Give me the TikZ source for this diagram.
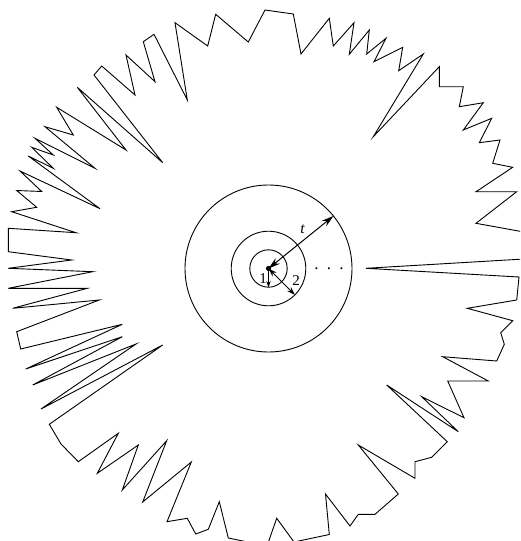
\documentclass[tikz,border=0pt]{standalone}
\usepackage{fontspec}
\setmainfont{Liberation Serif}
\usetikzlibrary{arrows.meta}
\begin{document}
\begin{tikzpicture}[x=1pt,y=-1pt,
  outline/.style={line width=0.9pt,line join=miter},
  ring/.style={line width=0.9pt},
  dimarrow/.style={line width=1pt,{Stealth[length=12pt,width=7pt]}-{Stealth[length=12pt,width=7pt]}},
  smallarrow/.style={line width=1pt,{Stealth[length=8.5pt,width=5.5pt]}-{Stealth[length=8.5pt,width=5.5pt]}},
  lbl/.style={font=\fontsize{15}{15}\selectfont,inner sep=0pt}]
\useasboundingbox (0,0) rectangle (520,541);
\clip (0,0) rectangle (520,541);
\draw[outline] (265,10) -- (293.3,14) -- (301,54) -- (329.3,18.3) -- (333.3,46) -- (354,22.7) -- (349.3,54.3) -- (369.3,30) -- (366.7,54) -- (386,38.3) -- (374,61.7) -- (402.7,47.3) -- (398.7,70.7) -- (423.3,54) -- (373.3,136.7) -- (439.3,66.7) -- (439.3,86.7) -- (463.3,86.7) -- (459.3,106.7) -- (483.3,102.7) -- (463.3,130) -- (491.7,118.3) -- (479.3,142.7) -- (500,140) -- (492.7,163.3) -- (512.7,167.3) -- (476,191.7) -- (516.7,191.7) -- (476,223.3) -- (524,232) -- (524,259) -- (366,268.3) -- (519,277) -- (516.7,300) -- (467.3,308.3) -- (512.7,320.7) -- (500.7,332.7) -- (504.3,344.3) -- (496.7,361) -- (442.7,356.7) -- (488.3,381) -- (447.7,381) -- (464,417.7) -- (421.7,396.7) -- (458.3,431.7) -- (386.7,385) -- (447.3,441.7) -- (431.7,457.3) -- (415,461.7) -- (415,478.3) -- (358.3,445) -- (398.3,494) -- (375,514.3) -- (358.3,514.3) -- (350,526) -- (325.5,494) -- (329.3,534.5) -- (294,542) -- (276.7,518.3) -- (267,546) -- (228.3,538) -- (219.3,501.7) -- (208.3,529.3) -- (195.7,534) -- (187.3,518.3) -- (167,521.7) -- (191.3,462) -- (142.7,502) -- (166.7,440.7) -- (122.3,490) -- (138.3,445) -- (97.3,473.3) -- (118.3,433.3) -- (78.3,461.7) -- (61,444) -- (49.3,424.3) -- (162.7,345) -- (41,409) -- (136,344) -- (32.7,385) -- (122.3,336.7) -- (25.7,369) -- (122.3,324.3) -- (20.7,349) -- (16.7,331.7) -- (99.3,300) -- (12.7,308.3) -- (87.3,288.3) -- (8.3,288.3) -- (92.7,271.7) -- (8.3,268.3) -- (71.7,260) -- (8.3,251.7) -- (8.3,228.3) -- (76,232.7) -- (11.7,211.7) -- (36.7,207.3) -- (16.7,190.5) -- (41.7,191.5) -- (20,171) -- (100,208.7) -- (28.3,156) -- (53.3,168.3) -- (31.7,147.3) -- (53.3,155) -- (35,138.3) -- (95,168.3) -- (45,126.7) -- (73.3,135) -- (56.7,107.3) -- (126,150) -- (77.3,87.3) -- (162.7,162.7) -- (94,75) -- (101.7,66) -- (135,95) -- (126,55) -- (155,81.7) -- (143.3,41.7) -- (154,34.3) -- (187.3,100) -- (175,22.7) -- (207.7,46) -- (215.7,14.3) -- (248.3,42) -- cycle;
\coordinate (c) at (268.5,268.5);
\coordinate (tend) at (333.4,216);
\coordinate (twoend) at (294.9,294.9);
\coordinate (oneend) at (268.5,287.4);
\draw[ring] (c) circle[radius=83.5];
\draw[ring] (c) circle[radius=37.3];
\draw[ring] (c) circle[radius=18.7];
\fill (c) circle[radius=2.6];
\draw[dimarrow] (c) -- (tend);
\draw[smallarrow] (c) -- (twoend);
\draw[line width=1pt,-{Stealth[length=6.5pt,width=4.5pt]}] (c) -- (oneend);
\node[lbl,font=\fontsize{15.5}{15.5}\selectfont\itshape] (tlab) at (302.5,229) {t};
\node[lbl] (twolab) at (296,280.5) {2};
\node[lbl] (onelab) at (263,278.5) {1};
\node[lbl,anchor=base,font=\fontsize{17}{17}\selectfont] (dots) at (329,269) {.\hspace{8.25pt}.\hspace{8.25pt}.};
\end{tikzpicture}
\end{document}
